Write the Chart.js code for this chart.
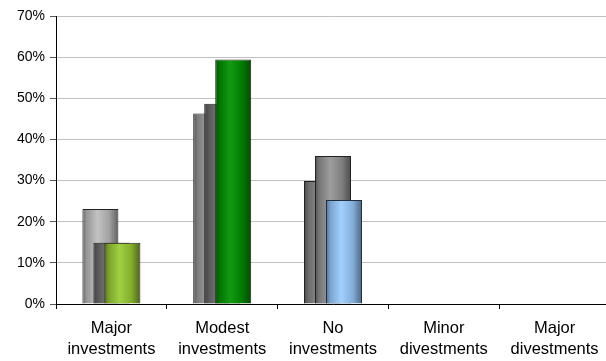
<!DOCTYPE html>
<html>
<head>
<meta charset="utf-8">
<script src="https://cdn.jsdelivr.net/npm/chart.js@4/dist/chart.umd.min.js"></script>
<style>
  html, body { margin: 0; padding: 0; background: #fff; overflow: hidden; }
  #wrap { width: 606px; height: 361px; overflow: hidden; }
</style>
</head>
<body>
<div id="wrap"><canvas id="c" width="610" height="361"></canvas></div>
<script>
// ---- data ----
const categories = [
  ['Major', 'investments'],
  ['Modest', 'investments'],
  ['No', 'investments'],
  ['Minor', 'divestments'],
  ['Major', 'divestments']
];
const seriesBack  = [23.1, 46.3, 29.9, 0, 0];
const seriesMid   = [14.9, 48.7, 36.0, 0, 0];
const seriesFront = [14.9, 59.4, 25.3, 0, 0];
const yTicks = [0, 10, 20, 30, 40, 50, 60, 70];

// ---- styles ----
const colorsBack  = ['#bdbdbd', '#9a9a9a', '#858585', '#999999', '#999999'];
const colorsMid   = ['#6e6e6e', '#6e6e6e', '#959595', '#777777', '#777777'];
const colorsFront = ['#99cc33', '#009100', '#99ccff', '#99ccff', '#99ccff'];
const borderCols  = ['#222222', '#222222', '#1f2f3f', '#222', '#222'];

const CAT_PCT = 0.298;
const BAR_PCT = 3.27;

function shade(hex, f) {
  const n = parseInt(hex.slice(1), 16);
  let r = (n >> 16) & 255, g = (n >> 8) & 255, b = n & 255;
  if (f <= 1) { r *= f; g *= f; b *= f; }
  else { const t = f - 1; r += (255 - r) * t; g += (255 - g) * t; b += (255 - b) * t; }
  return 'rgb(' + Math.round(r) + ',' + Math.round(g) + ',' + Math.round(b) + ')';
}

function cylinder(colors) {
  return function (ctx) {
    const base = colors[ctx.dataIndex];
    const chart = ctx.chart;
    const xs = chart.scales && chart.scales.x;
    if (!xs || !chart.chartArea || !isFinite(xs.width) || xs.width <= 0) return base;
    const center = xs.getPixelForValue(ctx.dataIndex);
    const catW = xs.width / categories.length;
    const slot = catW * CAT_PCT / 3;
    const bc = center + (ctx.datasetIndex - 1) * slot;
    const half = slot * BAR_PCT / 2;
    const g = chart.ctx.createLinearGradient(bc - half, 0, bc + half, 0);
    g.addColorStop(0, shade(base, 0.55));
    g.addColorStop(0.12, shade(base, 0.8));
    g.addColorStop(0.42, shade(base, 1.08));
    g.addColorStop(0.75, shade(base, 0.85));
    g.addColorStop(1, shade(base, 0.5));
    return g;
  };
}

// draw datasets back-to-front in index order
const drawOrder = {
  id: 'drawOrder',
  beforeDatasetsDraw(chart) {
    const area = chart.chartArea;
    const c = chart.ctx;
    c.save();
    c.beginPath();
    c.rect(area.left, area.top - 2, area.right - area.left, area.bottom - area.top + 2);
    c.clip();
    chart.getSortedVisibleDatasetMetas().forEach(m => m.controller.draw());
    c.restore();
    return false;
  }
};

const commonDs = {
  borderWidth: 1,
  borderSkipped: 'bottom',
  categoryPercentage: CAT_PCT,
  barPercentage: BAR_PCT
};

new Chart(document.getElementById('c'), {
  type: 'bar',
  data: {
    labels: categories,
    datasets: [
      Object.assign({ label: 'Series 1', data: seriesBack,  backgroundColor: cylinder(colorsBack),  borderColor: '#222222' }, commonDs),
      Object.assign({ label: 'Series 2', data: seriesMid,   backgroundColor: cylinder(colorsMid),   borderColor: '#222222' }, commonDs),
      Object.assign({ label: 'Series 3', data: seriesFront, backgroundColor: cylinder(colorsFront), borderColor: borderCols }, commonDs)
    ]
  },
  plugins: [drawOrder],
  options: {
    responsive: false,
    animation: false,
    events: [],
    layout: { padding: { top: 16, left: 0, right: 0, bottom: 0 } },
    plugins: { legend: { display: false }, tooltip: { enabled: false } },
    scales: {
      x: {
        offset: true,
        grid: { display: true, drawOnChartArea: false, offset: true, tickLength: 5, tickColor: '#000', color: '#000' },
        border: { display: true, color: '#000', width: 1 },
        ticks: {
          color: '#000', maxRotation: 0, autoSkip: false, padding: 9,
          font: { family: '"Liberation Sans", Arial, sans-serif', size: 16.5, lineHeight: 1.27 }
        },
        afterFit(s) { s.height = 57; }
      },
      y: {
        min: 0, max: 70,
        afterBuildTicks(s) { s.ticks = yTicks.map(v => ({ value: v })); },
        grid: { color: '#c0c0c0', tickLength: 6, tickColor: '#555' },
        border: { display: true, color: '#000', width: 1 },
        ticks: {
          color: '#000', padding: 5,
          font: { family: '"Liberation Sans", Arial, sans-serif', size: 14 },
          callback: v => v + '%'
        },
        afterFit(s) { s.width = 56; }
      }
    }
  }
});
</script>
</body>
</html>
